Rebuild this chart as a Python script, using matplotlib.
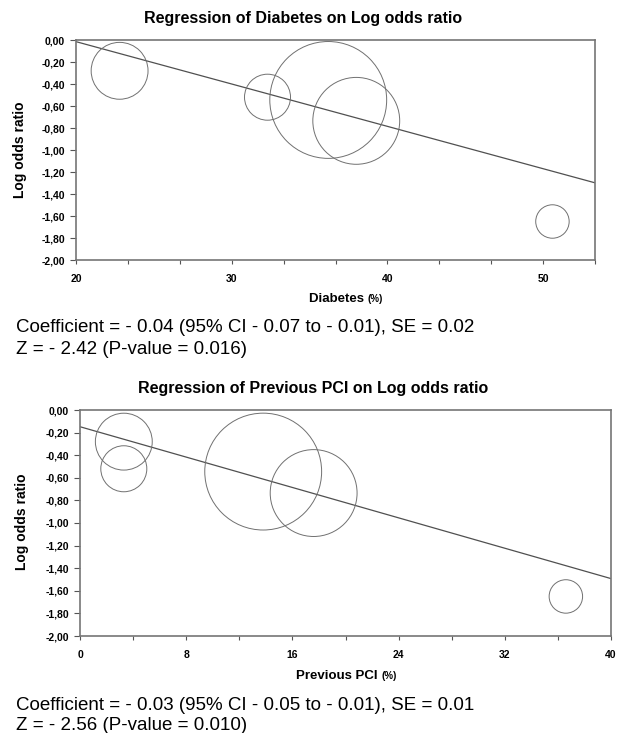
import numpy as np
import matplotlib
matplotlib.use("Agg")
import matplotlib.pyplot as plt
from matplotlib.ticker import FixedLocator, FuncFormatter

plt.rcParams["font.family"] = ["Liberation Sans", "DejaVu Sans"]

# study data (shared by both panels)
log_or = [-0.28, -0.52, -0.545, -0.735, -1.65]
weight = [8.1, 5.3, 34.2, 18.9, 2.8]          # relative study weight -> bubble area

diabetes = [22.8, 32.3, 36.2, 38.0, 50.6]
prev_pci = [3.3, 3.3, 13.8, 17.6, 36.6]

# meta-regression lines (intercept, slope)
fit_diab = (0.755, -0.0385)
fit_pci = (-0.148, -0.0336)

text_diab = ["Coefficient = - 0.04 (95% CI - 0.07 to - 0.01), SE = 0.02",
             "Z = - 2.42 (P-value = 0.016)"]
text_pci = ["Coefficient = - 0.03 (95% CI - 0.05 to - 0.01), SE = 0.01",
            "Z = - 2.56 (P-value = 0.010)"]

W, H = 617, 733
fig = plt.figure(figsize=(W / 100, H / 100), dpi=100)

GREY = "#767676"


def fx(px):
    return px / W


def fy(py):
    return 1 - py / H


def panel(box, x, fit, xlim, major, minor, title, xlab, notes, pos):
    l, t, r, b = box
    ax = fig.add_axes([fx(l), fy(b), fx(r) - fx(l), fy(t) - fy(b)])
    ax.set_xlim(*xlim)
    ax.set_ylim(-2, 0)
    ax.scatter(x, log_or, s=np.array(weight) * 207, facecolors="none",
               edgecolors="#707070", linewidths=0.7, clip_on=False, zorder=3)
    xs = np.array(xlim)
    ax.plot(xs, fit[0] + fit[1] * xs, color="#505050", lw=0.9, zorder=2)

    for s in ax.spines.values():
        s.set_color(GREY)
        s.set_linewidth(1.2)
    ax.yaxis.set_major_locator(FixedLocator(np.round(np.arange(-2, 0.01, 0.2), 2)))
    ax.yaxis.set_major_formatter(FuncFormatter(lambda v, p: f"{v:.2f}".replace(".", ",").replace("-0,00", "0,00")))
    ax.xaxis.set_major_locator(FixedLocator(major))
    ax.xaxis.set_minor_locator(FixedLocator(minor))
    ax.tick_params(axis="both", which="both", direction="out", color="#555555", width=0.8)
    ax.tick_params(axis="y", length=4, pad=4, labelsize=7.5)
    ax.tick_params(axis="x", which="both", length=3, pad=7, labelsize=7.5)
    for lab in ax.get_xticklabels() + ax.get_yticklabels():
        lab.set_fontweight("bold")

    tx, ty, ylx, yly, xlx, xly, nx, ny = pos
    fig.text(fx(tx), fy(ty), title, ha="center", va="center",
             fontsize=11.5, fontweight="bold")
    fig.text(fx(ylx), fy(yly), "Log odds ratio", ha="center", va="center",
             rotation=90, fontsize=10, fontweight="bold")
    fig.text(fx(xlx), fy(xly), xlab + " ", ha="right", va="center",
             fontsize=9.5, fontweight="bold")
    fig.text(fx(xlx), fy(xly), "(%)", ha="left", va="center",
             fontsize=7, fontweight="bold")
    for i, line in enumerate(notes):
        fig.text(fx(nx), fy(ny + 21 * i), line, ha="left", va="center",
                 fontsize=13.5)
    return ax


panel((76, 40, 595, 260), diabetes, fit_diab, (20, 20 + 100 / 3),
      [20, 30, 40, 50], [20 + k * 10 / 3 for k in range(11) if k % 3],
      "Regression of Diabetes on Log odds ratio", "Diabetes", text_diab,
      (303, 18, 20, 150, 368, 299, 16, 328))

panel((80, 410, 611, 636), prev_pci, fit_pci, (0, 40),
      [0, 8, 16, 24, 32, 40], [4, 12, 20, 28, 36],
      "Regression of Previous PCI on Log odds ratio", "Previous PCI", text_pci,
      (313, 388, 22, 522, 381, 676, 16, 705))

fig.savefig("out.png", dpi=100)
